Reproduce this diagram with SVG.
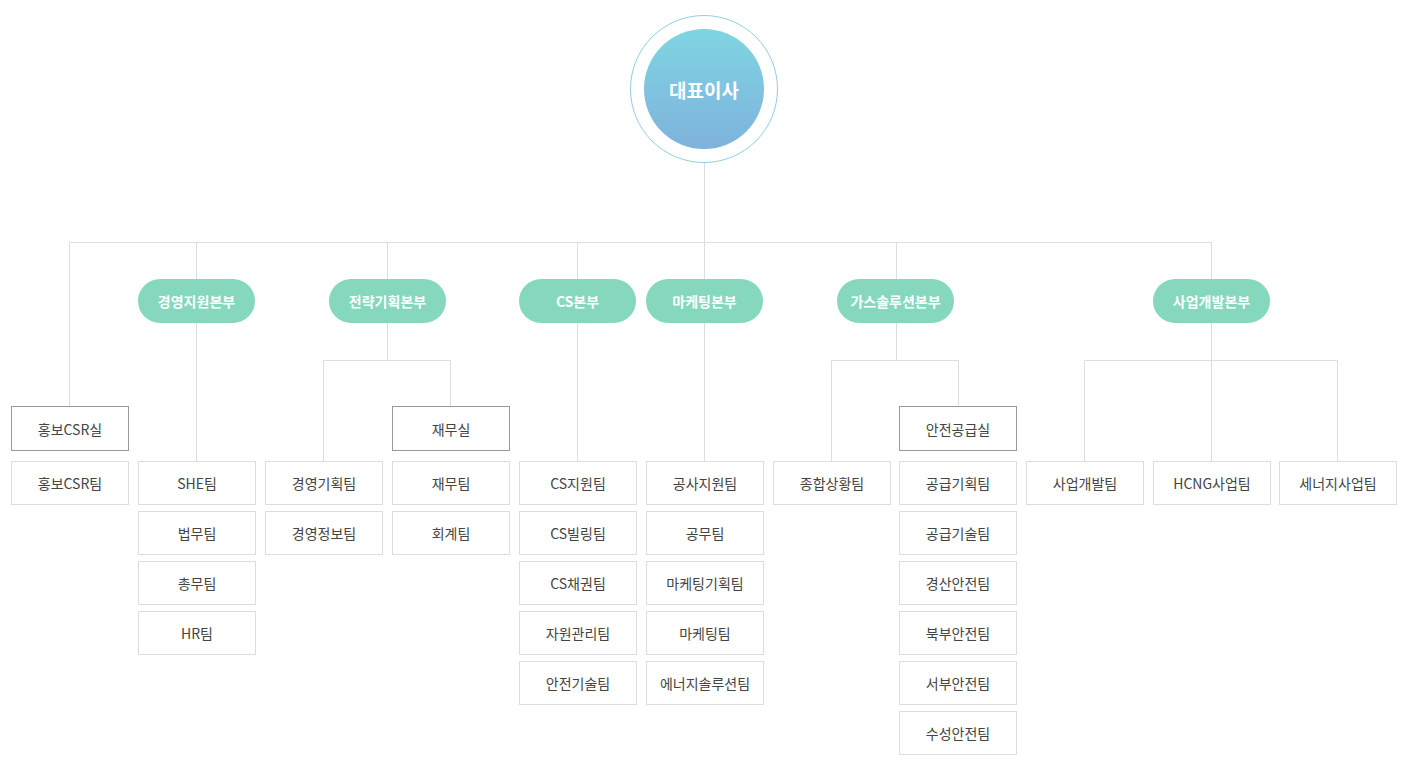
<svg xmlns="http://www.w3.org/2000/svg" width="1424" height="772" viewBox="0 0 1424 772">
<style>
text{font-family:"Noto Sans CJK KR","Noto Sans",sans-serif;text-anchor:middle;dominant-baseline:central}
.pill rect{fill:#85d8bd}
.pill text{fill:#fff;font-size:14px;font-weight:bold}
.off rect{fill:#fff;stroke:#999;stroke-width:1}
.team rect{fill:#fff;stroke:#ddd;stroke-width:1}
.off text,.team text{fill:#444;font-size:14px}
.lines path{stroke:#ddd;stroke-width:1;fill:none}
</style>
<defs><linearGradient id="g" x1="0" y1="0" x2="0" y2="1"><stop offset="0" stop-color="#7fd5e2"/><stop offset="1" stop-color="#7fb2dc"/></linearGradient></defs>
<rect width="1424" height="772" fill="#fff"/>
<g class="lines">
<path d="M704.5 163V242.5M69.5 242.5H1211.5M69.5 242.5V406M196.5 242.5V461M387.5 242.5V360.5M577.5 242.5V461M704.5 242.5V461M896.5 242.5V360.5M1211.5 242.5V461M323.5 360.5H450.5M323.5 360.5V461M450.5 360.5V406M831.5 360.5H958.5M831.5 360.5V461M958.5 360.5V406M1084.5 360.5H1337.5M1084.5 360.5V461M1337.5 360.5V461"/>
</g>
<g id="ceo"><circle cx="704" cy="89" r="73.5" fill="#fff" stroke="#8fcfe0"/><circle cx="704" cy="89" r="60" fill="url(#g)"/><text x="704" y="89" fill="#fff" font-size="19" font-weight="bold">대표이사</text></g>
<g id="d1" class="pill"><rect x="138" y="279" width="117" height="44" rx="22"/><text x="196.5" y="301">경영지원본부</text></g>
<g id="d2" class="pill"><rect x="329" y="279" width="117" height="44" rx="22"/><text x="387.5" y="301">전략기획본부</text></g>
<g id="d3" class="pill"><rect x="519" y="279" width="117" height="44" rx="22"/><text x="577.5" y="301">CS본부</text></g>
<g id="d4" class="pill"><rect x="646" y="279" width="117" height="44" rx="22"/><text x="704.5" y="301">마케팅본부</text></g>
<g id="d5" class="pill"><rect x="837" y="279" width="117" height="44" rx="22"/><text x="895.5" y="301">가스솔루션본부</text></g>
<g id="d6" class="pill"><rect x="1153" y="279" width="117" height="44" rx="22"/><text x="1211.5" y="301">사업개발본부</text></g>
<g id="o1" class="off"><rect x="11.5" y="406.5" width="117" height="44"/><text x="70" y="429">홍보CSR실</text></g>
<g id="o2" class="off"><rect x="392.5" y="406.5" width="117" height="44"/><text x="451" y="429">재무실</text></g>
<g id="o3" class="off"><rect x="899.5" y="406.5" width="117" height="44"/><text x="958" y="429">안전공급실</text></g>
<g class="team">
<g id="t1"><rect x="11.5" y="461.5" width="117" height="43"/><text x="70" y="483">홍보CSR팀</text></g>
<g id="t2"><rect x="138.5" y="461.5" width="117" height="43"/><text x="197" y="483">SHE팀</text></g>
<g id="t3"><rect x="138.5" y="511.5" width="117" height="43"/><text x="197" y="533">법무팀</text></g>
<g id="t4"><rect x="138.5" y="561.5" width="117" height="43"/><text x="197" y="583">총무팀</text></g>
<g id="t5"><rect x="138.5" y="611.5" width="117" height="43"/><text x="197" y="633">HR팀</text></g>
<g id="t6"><rect x="265.5" y="461.5" width="117" height="43"/><text x="324" y="483">경영기획팀</text></g>
<g id="t7"><rect x="265.5" y="511.5" width="117" height="43"/><text x="324" y="533">경영정보팀</text></g>
<g id="t8"><rect x="392.5" y="461.5" width="117" height="43"/><text x="451" y="483">재무팀</text></g>
<g id="t9"><rect x="392.5" y="511.5" width="117" height="43"/><text x="451" y="533">회계팀</text></g>
<g id="t10"><rect x="519.5" y="461.5" width="117" height="43"/><text x="578" y="483">CS지원팀</text></g>
<g id="t11"><rect x="519.5" y="511.5" width="117" height="43"/><text x="578" y="533">CS빌링팀</text></g>
<g id="t12"><rect x="519.5" y="561.5" width="117" height="43"/><text x="578" y="583">CS채권팀</text></g>
<g id="t13"><rect x="519.5" y="611.5" width="117" height="43"/><text x="578" y="633">자원관리팀</text></g>
<g id="t14"><rect x="519.5" y="661.5" width="117" height="43"/><text x="578" y="683">안전기술팀</text></g>
<g id="t15"><rect x="646.5" y="461.5" width="117" height="43"/><text x="705" y="483">공사지원팀</text></g>
<g id="t16"><rect x="646.5" y="511.5" width="117" height="43"/><text x="705" y="533">공무팀</text></g>
<g id="t17"><rect x="646.5" y="561.5" width="117" height="43"/><text x="705" y="583">마케팅기획팀</text></g>
<g id="t18"><rect x="646.5" y="611.5" width="117" height="43"/><text x="705" y="633">마케팅팀</text></g>
<g id="t19"><rect x="646.5" y="661.5" width="117" height="43"/><text x="705" y="683">에너지솔루션팀</text></g>
<g id="t20"><rect x="773.5" y="461.5" width="117" height="43"/><text x="832" y="483">종합상황팀</text></g>
<g id="t21"><rect x="899.5" y="461.5" width="117" height="43"/><text x="958" y="483">공급기획팀</text></g>
<g id="t22"><rect x="899.5" y="511.5" width="117" height="43"/><text x="958" y="533">공급기술팀</text></g>
<g id="t23"><rect x="899.5" y="561.5" width="117" height="43"/><text x="958" y="583">경산안전팀</text></g>
<g id="t24"><rect x="899.5" y="611.5" width="117" height="43"/><text x="958" y="633">북부안전팀</text></g>
<g id="t25"><rect x="899.5" y="661.5" width="117" height="43"/><text x="958" y="683">서부안전팀</text></g>
<g id="t26"><rect x="899.5" y="711.5" width="117" height="43"/><text x="958" y="733">수성안전팀</text></g>
<g id="t27"><rect x="1026.5" y="461.5" width="117" height="43"/><text x="1085" y="483">사업개발팀</text></g>
<g id="t28"><rect x="1153.5" y="461.5" width="117" height="43"/><text x="1212" y="483">HCNG사업팀</text></g>
<g id="t29"><rect x="1279.5" y="461.5" width="117" height="43"/><text x="1338" y="483">세너지사업팀</text></g>
</g>
</svg>
